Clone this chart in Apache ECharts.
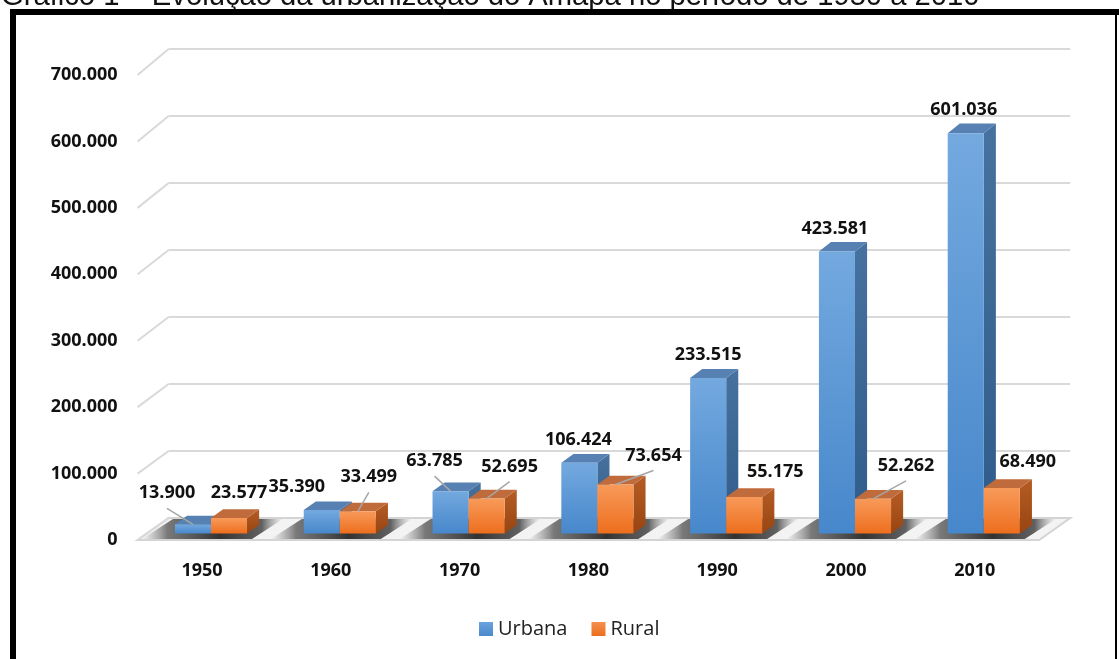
<!DOCTYPE html>
<html><head><meta charset="utf-8">
<script src="https://cdn.jsdelivr.net/npm/echarts@6/dist/echarts.min.js"></script>
<style>html,body{margin:0;padding:0;background:#fff;overflow:hidden}#c{width:1119px;height:659px}</style>
</head><body><div id="c"></div>
<script>
// ---- data ----
const TITLE = 'Gráfico 1 – Evolução da urbanização do Amapá no período de 1950 a 2010';
const YEARS = ['1950', '1960', '1970', '1980', '1990', '2000', '2010'];
const URBANA = [13900, 35390, 63785, 106424, 233515, 423581, 601036];
const RURAL = [23577, 33499, 52695, 73654, 55175, 52262, 68490];
const Y_TICKS = [0, 100000, 200000, 300000, 400000, 500000, 600000, 700000];
const SERIES_NAMES = ['Urbana', 'Rural'];

// ---- layout (pixel) ----
const FRONT = { left: 137.6, right: 79.8, top: 75, bottom: 119 };  // floor front plane
const BACK = { left: 168.6, right: 48.8, top: 49, bottom: 141 };   // back wall
const H = 659;
const K = (H - BACK.top - BACK.bottom) / (H - FRONT.top - FRONT.bottom);
const DEPTH = [BACK.left - FRONT.left, (H - BACK.bottom) - (H - FRONT.bottom)];
const T1 = 0.29, T2 = 0.68, BAR_FRAC = 0.28;
// label offsets from bar front-top centre: [dx, dy, leaderLine]
const URB_LABEL_OFF = [[-26, -31, 1], [-25, -23, 0], [-16, -30, 1], [-1, -23, 0], [0, -23, 0], [-2, -23, 0], [-2, -23, 0]];
const RUR_LABEL_OFF = [[10, -25, 0], [11, -34, 1], [23, -32, 1], [38, -29, 1], [31, -25, 0], [33, -33, 1], [26, -26, 0]];

const fmt = v => String(v).replace(/\B(?=(\d{3})+(?!\d))/g, '.');
const LABEL_FONT = { fontFamily: 'Open Sans', fontWeight: 'bold', fontSize: 18 };

function proj(api, cat, v, t) {
  const f = api.coord([cat, v]);
  const b = api.coord([cat, v * K]);
  return [f[0] + t * DEPTH[0], f[1] + t * (b[1] + DEPTH[1] - f[1])];
}
function vgrad(a, b) {
  return { type: 'linear', x: 0, y: 0, x2: 0, y2: 1, colorStops: [{ offset: 0, color: a }, { offset: 1, color: b }] };
}
const COLORS = [
  { front: vgrad('#73a9df', '#4787cb'), side: vgrad('#47729f', '#2f5b8a'), top: '#5681b2' },
  { front: vgrad('#f89a5a', '#ed6e1d'), side: vgrad('#b55c24', '#984512'), top: '#c06b3b' }
];

function makeBarRender(si, values, offs) {
  return function (params, api) {
    const i = api.value(0), v = api.value(1);
    const bw = api.size([1, 0])[0] * BAR_FRAC;
    const p0 = proj(api, i, 0, T1), pt = proj(api, i, v, T1);
    const q0 = proj(api, i, 0, T2), qt = proj(api, i, v, T2);
    const x1 = si === 0 ? p0[0] - bw : p0[0], x2 = x1 + bw;
    const dx = q0[0] - p0[0];
    const c = COLORS[si];
    const kids = [
      { type: 'polygon', shape: { points: [[x2, pt[1]], [x2 + dx, qt[1]], [x2 + dx, q0[1]], [x2, p0[1]]] }, style: { fill: c.side } },
      { type: 'polygon', shape: { points: [[x1, pt[1]], [x2, pt[1]], [x2 + dx, qt[1]], [x1 + dx, qt[1]]] }, style: { fill: c.top } },
      { type: 'rect', shape: { x: x1, y: pt[1], width: bw, height: p0[1] - pt[1] }, style: { fill: c.front } }
    ];
    const o = offs[i];
    const cx = x1 + bw / 2;
    const lx = cx + o[0], ly = pt[1] + o[1];
    if (o[2]) {
      kids.push({ type: 'line', shape: { x1: lx, y1: ly + 15, x2: cx, y2: pt[1] }, style: { stroke: '#a6a6a6', lineWidth: 1.5 }, z2: 5 });
    }
    kids.push({ type: 'text', x: lx, y: ly, z2: 10, style: Object.assign({ text: fmt(v), fill: '#111', align: 'center', verticalAlign: 'middle' }, LABEL_FONT) });
    return { type: 'group', children: kids };
  };
}

function floorRender(params, api) {
  const band = api.size([1, 0])[0];
  const kids = [];
  const n = YEARS.length;
  const fl = api.coord([0, 0]), fr = api.coord([n - 1, 0]);
  const xL = fl[0] - band / 2, xR = fr[0] + band / 2, y0 = fl[1];
  kids.push({ type: 'polygon', shape: { points: [[xL, y0], [xR, y0], [xR + DEPTH[0], y0 + DEPTH[1]], [xL + DEPTH[0], y0 + DEPTH[1]]] },
    style: { fill: '#f3f3f3', stroke: '#d4d4d4', lineWidth: 2 } });
  for (let k = 0; k < n; k++) {
    const c = api.coord([k, 0])[0];
    const a = c - 60, b = c + 50;
    kids.push({ type: 'polygon', shape: { points: [[a, y0 - 1], [b, y0 - 1], [b + DEPTH[0], y0 + DEPTH[1] + 1], [a + DEPTH[0], y0 + DEPTH[1] + 1]] },
      style: { fill: { type: 'linear', x: 0, y: 0, x2: 1, y2: 0, colorStops: [
        { offset: 0, color: 'rgba(120,120,120,0)' }, { offset: 0.18, color: 'rgba(80,80,80,0.75)' },
        { offset: 0.55, color: 'rgba(40,40,40,0.95)' }, { offset: 0.85, color: 'rgba(60,60,60,0.8)' },
        { offset: 1, color: 'rgba(120,120,120,0)' }] } } });
  }
  // left side wall lines
  Y_TICKS.forEach(t => {
    const f = api.coord([0, t]), b = api.coord([0, t * K]);
    kids.push({ type: 'line', shape: { x1: xL, y1: f[1], x2: xL + DEPTH[0], y2: b[1] + DEPTH[1] }, style: { stroke: '#d9d9d9', lineWidth: 2 } });
  });
  return { type: 'group', children: kids };
}

const chart = echarts.init(document.getElementById('c'), null, { renderer: 'canvas' });
chart.setOption({
  animation: false,
  backgroundColor: '#fff',
  graphic: [
    { type: 'text', x: 1, y: -3, z: 90, style: { text: TITLE, fontFamily: 'Liberation Sans', fontSize: 29.2, fill: '#111', align: 'left', verticalAlign: 'middle' } },
    { type: 'rect', z: 100, shape: { x: 10, y: 9, width: 1109, height: 6 }, style: { fill: '#000' } },
    { type: 'rect', z: 100, shape: { x: 10, y: 9, width: 6, height: 660 }, style: { fill: '#000' } },
    { type: 'rect', z: 100, shape: { x: 1115, y: 9, width: 2, height: 660 }, style: { fill: '#000' } }
  ],
  legend: {
    data: [
      { name: SERIES_NAMES[0], itemStyle: { color: vgrad('#6aa3dd', '#4a89cc') } },
      { name: SERIES_NAMES[1], itemStyle: { color: vgrad('#f5904c', '#ec6e1e') } }
    ],
    left: 474, top: 614, icon: 'rect', itemWidth: 14, itemHeight: 14, itemGap: 24,
    textStyle: { fontFamily: 'Open Sans', fontSize: 20, color: '#222' }
  },
  grid: [
    { left: FRONT.left, right: FRONT.right, top: FRONT.top, bottom: FRONT.bottom },
    { left: BACK.left, right: BACK.right, top: BACK.top, bottom: BACK.bottom }
  ],
  xAxis: [
    { type: 'category', gridIndex: 0, data: YEARS, axisLine: { show: false }, axisTick: { show: false },
      axisLabel: Object.assign({ color: '#111', margin: 21, lineHeight: 20 }, LABEL_FONT) },
    { type: 'category', gridIndex: 1, data: YEARS, show: false }
  ],
  yAxis: [
    { type: 'value', gridIndex: 0, min: 0, max: 700000, interval: 100000, splitLine: { show: false },
      axisLine: { show: false }, axisTick: { show: false },
      axisLabel: Object.assign({ color: '#111', margin: 20, formatter: fmt }, LABEL_FONT) },
    { type: 'value', gridIndex: 1, min: 0, max: 700000, interval: 100000,
      axisLine: { show: false }, axisTick: { show: false }, axisLabel: { show: false },
      splitLine: { lineStyle: { color: '#d9d9d9', width: 2 } } }
  ],
  series: [
    { type: 'custom', name: 'floor', xAxisIndex: 0, yAxisIndex: 0, z: 1, silent: true, renderItem: floorRender, data: [[0, 0]] },
    { type: 'custom', name: SERIES_NAMES[0], xAxisIndex: 0, yAxisIndex: 0, z: 3, itemStyle: { color: '#5b9bd5' },
      renderItem: makeBarRender(0, URBANA, URB_LABEL_OFF), data: URBANA.map((v, i) => [i, v]) },
    { type: 'custom', name: SERIES_NAMES[1], xAxisIndex: 0, yAxisIndex: 0, z: 4, itemStyle: { color: '#ed7d31' },
      renderItem: makeBarRender(1, RURAL, RUR_LABEL_OFF), data: RURAL.map((v, i) => [i, v]) }
  ]
});
</script></body></html>
